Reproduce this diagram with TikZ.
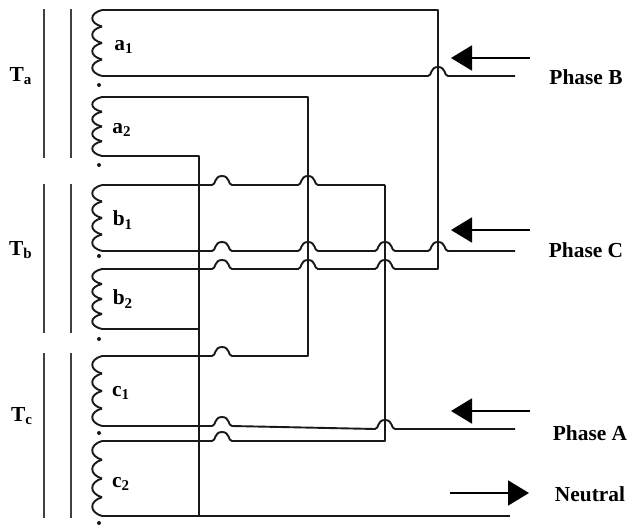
\documentclass[tikz,border=0pt]{standalone}
\usepackage{fontspec}
\setmainfont{Liberation Serif}
\usetikzlibrary{arrows.meta}

\tikzstyle{wire} = [line width=.95pt, line join=round, black!90]
\tikzstyle{core} = [line width=.85pt, black!75]
\tikzstyle{flow} = [line width=.95pt, black, -{Triangle[length=10.5pt,width=12.5pt]}]
\tikzstyle{tag} = [font=\bfseries\fontsize{10.7}{12}\selectfont, inner sep=0pt]
\tikzstyle{polarity} = [circle, fill=black!90, inner sep=0pt, minimum size=2pt]

% one jump over a vertical wire
\newcommand{\hump}[2]{-- (#1-10,#2) .. controls (#1-6,#2) and (#1-8,#2-9) .. (#1,#2-9) .. controls (#1+8,#2-9) and (#1+6,#2) .. (#1+10,#2)}
% one winding, four turns
\newcommand{\coil}[2]{
  \pgfmathsetmacro{\turn}{(#2-#1)/4}
  \foreach \k in {0,1,2,3} {
    \draw[wire] (102,{#1+\k*\turn}) .. controls (89,{#1+(\k+.2)*\turn}) and (89,{#1+(\k+.8)*\turn}) .. (102,{#1+(\k+1)*\turn});
  }
}

\begin{document}
\begin{tikzpicture}[x=.5pt,y=-.5pt]
      \useasboundingbox (0,0) rectangle (628,525);

      % cores
      \coordinate (ca1) at (44,9);
      \coordinate (ca2) at (44,158);
      \coordinate (ca3) at (71,9);
      \coordinate (ca4) at (71,158);
      \coordinate (cb1) at (44,184);
      \coordinate (cb2) at (44,333);
      \coordinate (cb3) at (71,184);
      \coordinate (cb4) at (71,333);
      \coordinate (cc1) at (44,353);
      \coordinate (cc2) at (44,518);
      \coordinate (cc3) at (71,353);
      \coordinate (cc4) at (71,518);
      \draw[core] (ca1) -- (ca2);
      \draw[core] (ca3) -- (ca4);
      \draw[core] (cb1) -- (cb2);
      \draw[core] (cb3) -- (cb4);
      \draw[core] (cc1) -- (cc2);
      \draw[core] (cc3) -- (cc4);

      % winding ends
      \coordinate (a1t) at (102,10);
      \coordinate (a1b) at (102,76);
      \coordinate (a2t) at (102,97);
      \coordinate (a2b) at (102,156);
      \coordinate (b1t) at (102,185);
      \coordinate (b1b) at (102,251);
      \coordinate (b2t) at (102,269);
      \coordinate (b2b) at (102,329);
      \coordinate (c1t) at (102,356);
      \coordinate (c1b) at (102,426);
      \coordinate (c2t) at (102,441);
      \coordinate (c2b) at (102,516);
      \coil{10}{76}
      \coil{97}{156}
      \coil{185}{251}
      \coil{269}{329}
      \coil{356}{426}
      \coil{441}{516}

      % free ends of the lines
      \coordinate (lineB) at (515,76);
      \coordinate (lineC) at (515,251);
      \coordinate (lineA) at (515,429);
      \coordinate (lineN) at (510,516);

      \draw[wire] (a1b) \hump{438}{76} -- (lineB);
      \draw[wire] (b1b) \hump{222}{251} \hump{308}{251} \hump{385}{251} \hump{438}{251} -- (lineC);
      \draw[wire] (c1b) \hump{222}{426} -- (375,429) \hump{385}{429} -- (lineA);
      \draw[wire] (c2b) -- (lineN);
      \draw[wire] (b2t) \hump{222}{269} \hump{308}{269} \hump{385}{269} -- (438,269) -- (438,10) -- (a1t);
      \draw[wire] (c1t) \hump{222}{356} -- (308,356) -- (308,97) -- (a2t);
      \draw[wire] (c2t) \hump{222}{441} -- (385,441) -- (385,185);
      \draw[wire] (b1t) \hump{222}{185} \hump{308}{185} -- (385,185);
      \draw[wire] (a2b) -- (199,156) -- (199,516);
      \draw[wire] (b2b) -- (199,329);

      % polarity marks
      \node[polarity] (pa1) at (99,85) {};
      \node[polarity] (pa2) at (99,165) {};
      \node[polarity] (pb1) at (99,256) {};
      \node[polarity] (pb2) at (99,339) {};
      \node[polarity] (pc1) at (99,433) {};
      \node[polarity] (pc2) at (99,523) {};

      % current arrows
      \coordinate (tB) at (530,58);
      \coordinate (hB) at (451,58);
      \coordinate (tC) at (530,230);
      \coordinate (hC) at (451,230);
      \coordinate (tA) at (530,411);
      \coordinate (hA) at (451,411);
      \coordinate (tN) at (450,493);
      \coordinate (hN) at (529,493);
      \draw[flow] (tB) -- (hB);
      \draw[flow] (tC) -- (hC);
      \draw[flow] (tA) -- (hA);
      \draw[flow] (tN) -- (hN);

      % labels
      \node[tag] (Ta) at (21,76) {T$_{\mathbf{a}}$};
      \node[tag] (Tb) at (21,250) {T$_{\mathbf{b}}$};
      \node[tag] (Tc) at (22,416) {T$_{\mathbf{c}}$};
      \node[tag] (a1) at (124,47) {a$_{\mathbf{1}}$};
      \node[tag] (a2) at (122,130) {a$_{\mathbf{2}}$};
      \node[tag] (b1) at (123,220) {b$_{\mathbf{1}}$};
      \node[tag] (b2) at (123,299) {b$_{\mathbf{2}}$};
      \node[tag] (c1) at (121,393) {c$_{\mathbf{1}}$};
      \node[tag] (c2) at (121,484) {c$_{\mathbf{2}}$};
      \node[tag] (phB) at (586,77) {Phase B};
      \node[tag] (phC) at (586,250) {Phase C};
      \node[tag] (phA) at (590,433) {Phase A};
      \node[tag] (neu) at (590,494) {Neutral};
    \end{tikzpicture}
\end{document}
